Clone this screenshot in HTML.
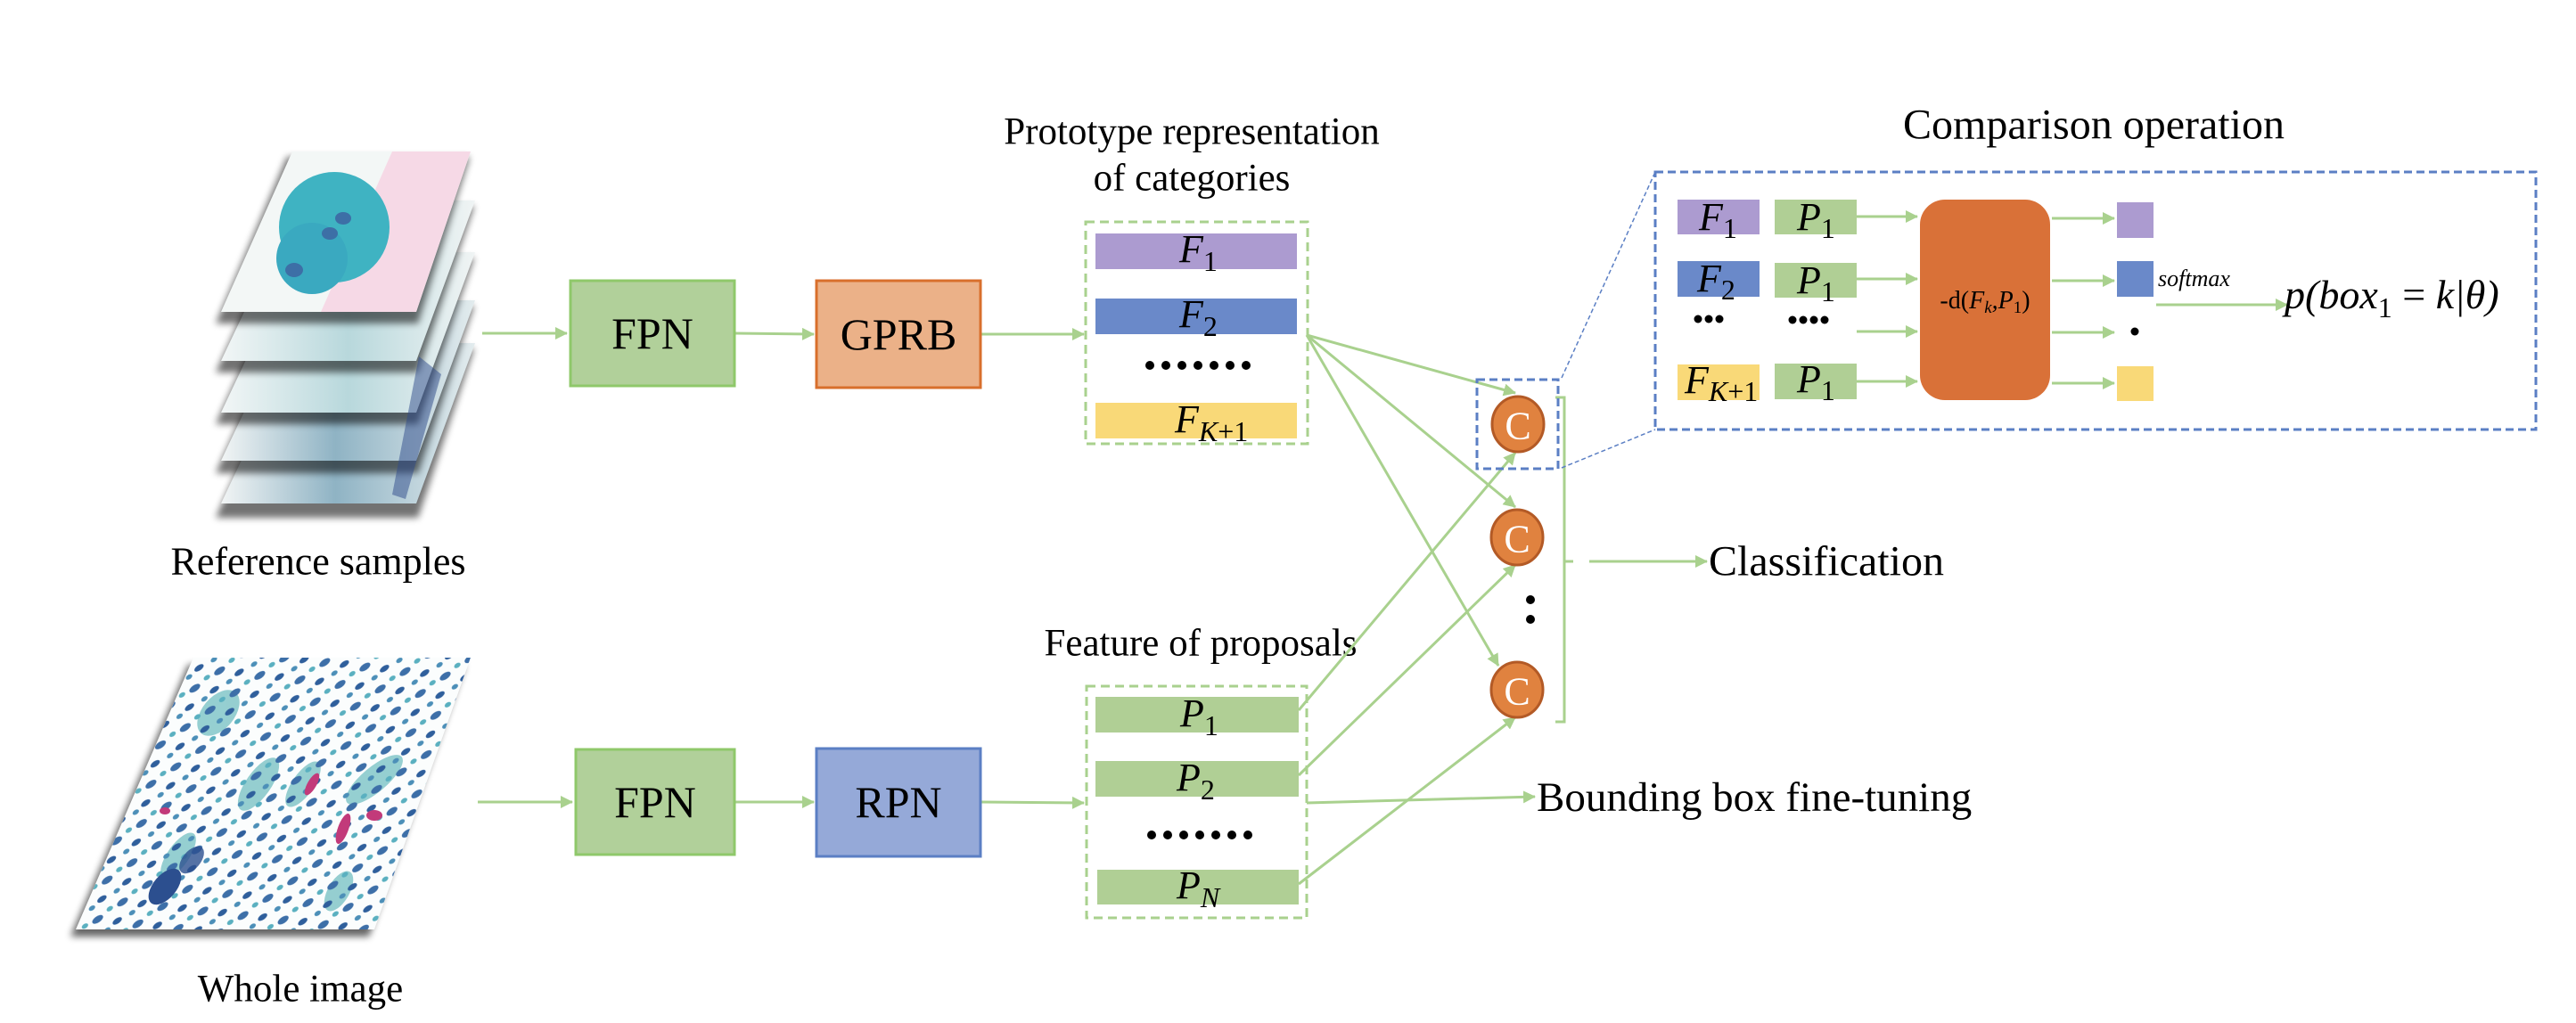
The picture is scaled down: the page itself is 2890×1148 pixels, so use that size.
<!DOCTYPE html>
<html><head><meta charset="utf-8"><style>
html,body{margin:0;padding:0;background:#fff;}
svg{display:block}
text{font-family:"Liberation Serif",serif;fill:#000}
.m{font-family:"Liberation Serif",serif;font-style:italic}
</style></head><body>
<svg width="2890" height="1148" viewBox="0 0 2890 1148" xmlns="http://www.w3.org/2000/svg">
<defs>
<marker id="ah2" markerWidth="14" markerHeight="14" refX="13" refY="7" orient="auto" markerUnits="userSpaceOnUse">
<path d="M0,0 L14,7 L0,14 Z" fill="#a9d18e"/>
</marker>
<filter id="sh" x="-20%" y="-20%" width="140%" height="150%"><feGaussianBlur stdDeviation="4"/></filter>
<clipPath id="wclip"><polygon points="217,738 528,738 420,1043 85,1043"/></clipPath>
<pattern id="cells" width="34" height="30" patternUnits="userSpaceOnUse" patternTransform="rotate(-35)">
<ellipse cx="8" cy="8" rx="7" ry="3.5" fill="#3d6fa8"/>
<ellipse cx="25" cy="22" rx="6" ry="3" fill="#2f5f9c"/>
<ellipse cx="26" cy="6" rx="4" ry="2.5" fill="#5ab0c0"/>
<ellipse cx="10" cy="24" rx="4" ry="2.5" fill="#4c8fb8"/>
</pattern>
<linearGradient id="lg1" x1="0" y1="0" x2="1" y2="0"><stop offset="0" stop-color="#f2f6f6"/><stop offset="0.5" stop-color="#b8d8dc"/><stop offset="1" stop-color="#f0f4f4"/></linearGradient>
<linearGradient id="lg2" x1="0" y1="0" x2="1" y2="0"><stop offset="0" stop-color="#f2f5f5"/><stop offset="0.45" stop-color="#8fb3c4"/><stop offset="1" stop-color="#e3ecee"/></linearGradient>
</defs>

<!-- Reference samples stack -->
<g>
<polygon points="333,385 538,385 475,575 248,575" fill="#000" opacity="0.55" filter="url(#sh)" transform="translate(-6,6)"/>
<polygon points="333,385 533,385 467,565 248,565" fill="url(#lg2)"/>
<polygon points="333,337 538,337 475,525 248,525" fill="#000" opacity="0.55" filter="url(#sh)" transform="translate(-6,6)"/>
<polygon points="333,337 533,337 467,517 248,517" fill="url(#lg2)"/>
<polygon points="333,283 538,283 475,470 248,470" fill="#000" opacity="0.55" filter="url(#sh)" transform="translate(-6,6)"/>
<polygon points="333,283 533,283 467,463 248,463" fill="url(#lg1)"/>
<polygon points="333,225 538,225 475,412 248,412" fill="#000" opacity="0.55" filter="url(#sh)" transform="translate(-6,6)"/>
<polygon points="333,225 533,225 467,405 248,405" fill="url(#lg1)"/>
<polygon points="328,170 533,170 475,357 248,357" fill="#000" opacity="0.55" filter="url(#sh)" transform="translate(-6,6)"/>
<polygon points="328,170 528,170 467,350 248,350" fill="#f3f7f6"/>
<clipPath id="tc"><polygon points="328,170 528,170 467,350 248,350"/></clipPath>
<g clip-path="url(#tc)">
<polygon points="440,170 528,170 467,350 360,350" fill="#f6d9e6"/>
<ellipse cx="375" cy="255" rx="62" ry="62" fill="#3fb3c2"/>
<ellipse cx="350" cy="290" rx="40" ry="40" fill="#3aa9c0"/>
<ellipse cx="385" cy="245" rx="9" ry="7" fill="#3d6fa6"/><ellipse cx="370" cy="262" rx="9" ry="7" fill="#3d6fa6"/><ellipse cx="330" cy="303" rx="10" ry="8" fill="#3d6fa6"/>
</g>
<path d="M470,400 L495,420 L455,560 L440,555 Z" fill="#2d4a8a" opacity="0.5"/>
</g>
<text x="357" y="630" font-size="44" text-anchor="middle" dominant-baseline="central">Reference samples</text>

<!-- Whole image -->
<polygon points="217,738 528,738 420,1043 85,1043" fill="#000" opacity="0.6" filter="url(#sh)" transform="translate(-6,8)"/>
<polygon points="217,738 528,738 420,1043 85,1043" fill="#fbfdfd"/>
<g clip-path="url(#wclip)">
<g fill="#7cc3c6" opacity="0.8">
<ellipse cx="245" cy="800" rx="30" ry="18" transform="rotate(-50 245 800)"/>
<ellipse cx="290" cy="880" rx="35" ry="14" transform="rotate(-55 290 880)"/>
<ellipse cx="420" cy="875" rx="40" ry="14" transform="rotate(-40 420 875)"/>
<ellipse cx="200" cy="960" rx="30" ry="12" transform="rotate(-55 200 960)"/>
<ellipse cx="380" cy="1000" rx="25" ry="12" transform="rotate(-60 380 1000)"/>
<ellipse cx="340" cy="880" rx="30" ry="12" transform="rotate(-55 340 880)"/>
</g>
<polygon points="217,738 528,738 420,1043 85,1043" fill="url(#cells)"/>
<ellipse cx="185" cy="995" rx="24" ry="13" transform="rotate(-50 185 995)" fill="#2c4f8f"/>
<ellipse cx="215" cy="965" rx="18" ry="10" transform="rotate(-50 215 965)" fill="#2c4f8f" opacity="0.8"/>
<ellipse cx="385" cy="930" rx="18" ry="6" transform="rotate(-70 385 930)" fill="#c23a7a"/>
<ellipse cx="420" cy="915" rx="9" ry="6" fill="#c23a7a"/>
<ellipse cx="350" cy="880" rx="14" ry="5" transform="rotate(-60 350 880)" fill="#c23a7a"/>
<ellipse cx="185" cy="910" rx="6" ry="4" fill="#c23a7a"/>
</g>
<text x="337" y="1110" font-size="43" text-anchor="middle" dominant-baseline="central">Whole image</text>

<g stroke="#a9d18e" stroke-width="3" fill="none">
<line x1="541" y1="374" x2="636" y2="374" marker-end="url(#ah2)"/>
<line x1="824" y1="374" x2="913" y2="375" marker-end="url(#ah2)"/>
<line x1="1100" y1="375" x2="1216" y2="375" marker-end="url(#ah2)"/>
<line x1="536" y1="900" x2="642" y2="900" marker-end="url(#ah2)"/>
<line x1="825" y1="900" x2="913" y2="900" marker-end="url(#ah2)"/>
<line x1="1100" y1="900" x2="1216" y2="901" marker-end="url(#ah2)"/>
</g>
<rect x="640" y="315" width="184" height="118" fill="#b1d09a" stroke="#8fc86a" stroke-width="3"/>
<text x="732" y="374" font-size="50" text-anchor="middle" dominant-baseline="central">FPN</text>
<rect x="916" y="315" width="184" height="120" fill="#ebb188" stroke="#d86f2c" stroke-width="3"/>
<text x="1008" y="375" font-size="50" text-anchor="middle" dominant-baseline="central">GPRB</text>
<rect x="646" y="841" width="178" height="118" fill="#b1d09a" stroke="#8fc86a" stroke-width="3"/>
<text x="735" y="900" font-size="50" text-anchor="middle" dominant-baseline="central">FPN</text>
<rect x="916" y="840" width="184" height="121" fill="#95a9d8" stroke="#5b7fc4" stroke-width="3"/>
<text x="1008" y="900" font-size="50" text-anchor="middle" dominant-baseline="central">RPN</text>

<text x="1337" y="148" font-size="43" text-anchor="middle" dominant-baseline="central">Prototype representation</text>
<text x="1337" y="200" font-size="43" text-anchor="middle" dominant-baseline="central">of categories</text>
<rect x="1218" y="249" width="249" height="249" fill="none" stroke="#a9d18e" stroke-width="3" stroke-dasharray="10,6"/>
<rect x="1229" y="262" width="226" height="40" fill="#ac9bd0"/>
<rect x="1229" y="335" width="226" height="40" fill="#6a89c9"/>
<rect x="1229" y="452" width="226" height="40" fill="#f9d978"/>
<text x="1323" y="294" font-size="44" class="m">F<tspan font-size="32" dy="10" font-style="normal">1</tspan></text>
<text x="1323" y="367" font-size="44" class="m">F<tspan font-size="32" dy="10" font-style="normal">2</tspan></text>
<text x="1318" y="485" font-size="44" class="m">F<tspan font-size="32" dy="10">K</tspan><tspan font-size="32" font-style="normal">+1</tspan></text>
<g fill="#000"><circle cx="1290" cy="410" r="5"/><circle cx="1308" cy="410" r="5"/><circle cx="1326" cy="410" r="5"/><circle cx="1344" cy="410" r="5"/><circle cx="1362" cy="410" r="5"/><circle cx="1380" cy="410" r="5"/><circle cx="1398" cy="410" r="5"/></g>

<text x="1347" y="722" font-size="43" text-anchor="middle" dominant-baseline="central">Feature of proposals</text>
<rect x="1219" y="770" width="247" height="260" fill="none" stroke="#a9d18e" stroke-width="3" stroke-dasharray="10,6"/>
<rect x="1229" y="782" width="228" height="40" fill="#b0cf95"/>
<rect x="1229" y="854" width="228" height="40" fill="#b0cf95"/>
<rect x="1231" y="976" width="226" height="39" fill="#b0cf95"/>
<text x="1324" y="815" font-size="44" class="m">P<tspan font-size="32" dy="10" font-style="normal">1</tspan></text>
<text x="1320" y="887" font-size="44" class="m">P<tspan font-size="32" dy="10" font-style="normal">2</tspan></text>
<text x="1320" y="1008" font-size="44" class="m">P<tspan font-size="32" dy="10">N</tspan></text>
<g fill="#000"><circle cx="1292" cy="937" r="5"/><circle cx="1310" cy="937" r="5"/><circle cx="1328" cy="937" r="5"/><circle cx="1346" cy="937" r="5"/><circle cx="1364" cy="937" r="5"/><circle cx="1382" cy="937" r="5"/><circle cx="1400" cy="937" r="5"/></g>

<g stroke="#a9d18e" stroke-width="3" fill="none">
<line x1="1466" y1="376" x2="1700" y2="441" marker-end="url(#ah2)"/>
<line x1="1466" y1="376" x2="1700" y2="569" marker-end="url(#ah2)"/>
<line x1="1466" y1="376" x2="1681" y2="747" marker-end="url(#ah2)"/>
<line x1="1457" y1="797" x2="1700" y2="508" marker-end="url(#ah2)"/>
<line x1="1457" y1="870" x2="1700" y2="634" marker-end="url(#ah2)"/>
<line x1="1457" y1="992" x2="1700" y2="805" marker-end="url(#ah2)"/>
<line x1="1466" y1="901" x2="1722" y2="894" marker-end="url(#ah2)"/>
<polyline points="1745,446 1755,446 1755,810 1745,810"/>
<line x1="1755" y1="630" x2="1765" y2="630"/>
<line x1="1783" y1="630" x2="1915" y2="630" marker-end="url(#ah2)"/>
</g>
<g fill="#e0823f" stroke="#b35a26" stroke-width="3">
<ellipse cx="1703" cy="476" rx="29" ry="31"/>
<ellipse cx="1702" cy="603" rx="29" ry="31"/>
<ellipse cx="1702" cy="774" rx="29" ry="31"/>
</g>
<g font-size="44" text-anchor="middle" dominant-baseline="central">
<text x="1703" y="478" style="fill:#fff">C</text>
<text x="1702" y="605" style="fill:#fff">C</text>
<text x="1702" y="776" style="fill:#fff">C</text>
</g>
<circle cx="1717" cy="673" r="5" fill="#000"/><circle cx="1717" cy="695" r="5" fill="#000"/>
<rect x="1657" y="426" width="91" height="100" fill="none" stroke="#5b7fc4" stroke-width="3" stroke-dasharray="9,5"/>
<g stroke="#5b7fc4" stroke-width="1.5" stroke-dasharray="5,3"><line x1="1752" y1="424" x2="1857" y2="193"/><line x1="1752" y1="525" x2="1857" y2="482"/></g>
<text x="1917" y="630" font-size="48" dominant-baseline="central">Classification</text>
<text x="1724" y="895" font-size="47" dominant-baseline="central">Bounding box fine-tuning</text>

<text x="2349" y="140" font-size="48" text-anchor="middle" dominant-baseline="central">Comparison operation</text>
<rect x="1857" y="193" width="988" height="289" fill="none" stroke="#5b7fc4" stroke-width="3" stroke-dasharray="9,5"/>
<rect x="1882" y="224" width="92" height="39" fill="#ac9bd0"/>
<rect x="1882" y="293" width="92" height="40" fill="#6a89c9"/>
<rect x="1882" y="409" width="92" height="40" fill="#f9d978"/>
<rect x="1991" y="224" width="92" height="39" fill="#b0cf95"/>
<rect x="1991" y="295" width="92" height="39" fill="#b0cf95"/>
<rect x="1991" y="408" width="92" height="40" fill="#b0cf95"/>
<g font-size="44" class="m">
<text x="1906" y="258">F<tspan font-size="32" dy="9" font-style="normal">1</tspan></text>
<text x="1904" y="327">F<tspan font-size="32" dy="9" font-style="normal">2</tspan></text>
<text x="1890" y="441">F<tspan font-size="32" dy="9">K</tspan><tspan font-size="32" font-style="normal">+1</tspan></text>
<text x="2016" y="258">P<tspan font-size="32" dy="9" font-style="normal">1</tspan></text>
<text x="2016" y="329">P<tspan font-size="32" dy="9" font-style="normal">1</tspan></text>
<text x="2016" y="440">P<tspan font-size="32" dy="9" font-style="normal">1</tspan></text>
</g>
<g fill="#000"><circle cx="1905" cy="358" r="4.5"/><circle cx="1917" cy="358" r="4.5"/><circle cx="1929" cy="358" r="4.5"/>
<circle cx="2011" cy="359" r="4.5"/><circle cx="2023" cy="359" r="4.5"/><circle cx="2035" cy="359" r="4.5"/><circle cx="2047" cy="359" r="4.5"/>
<circle cx="2395" cy="372" r="4.5"/></g>
<rect x="2154" y="224" width="146" height="225" rx="28" ry="28" fill="#d97138"/>
<text x="2227" y="346" font-size="28" text-anchor="middle">-d(<tspan class="m">F<tspan font-size="19" dy="5">k</tspan><tspan dy="-5">,P</tspan><tspan font-size="19" dy="5" font-style="normal">1</tspan></tspan><tspan dy="-5">)</tspan></text>
<g stroke="#a9d18e" stroke-width="3" fill="none">
<line x1="2083" y1="243" x2="2151" y2="243" marker-end="url(#ah2)"/>
<line x1="2083" y1="313" x2="2151" y2="313" marker-end="url(#ah2)"/>
<line x1="2083" y1="372" x2="2151" y2="372" marker-end="url(#ah2)"/>
<line x1="2083" y1="428" x2="2151" y2="428" marker-end="url(#ah2)"/>
<line x1="2302" y1="245" x2="2372" y2="245" marker-end="url(#ah2)"/>
<line x1="2302" y1="315" x2="2372" y2="315" marker-end="url(#ah2)"/>
<line x1="2302" y1="373" x2="2372" y2="373" marker-end="url(#ah2)"/>
<line x1="2302" y1="430" x2="2372" y2="430" marker-end="url(#ah2)"/>
<line x1="2419" y1="342" x2="2566" y2="342" marker-end="url(#ah2)"/>
</g>
<rect x="2375" y="227" width="41" height="40" fill="#ac9bd0"/>
<rect x="2375" y="293" width="41" height="40" fill="#6a89c9"/>
<rect x="2375" y="411" width="41" height="39" fill="#f9d978"/>
<text x="2421" y="321" font-size="26" class="m">softmax</text>
<text x="2563" y="346" font-size="46" class="m">p(box<tspan font-size="32" dy="10" font-style="normal">1</tspan><tspan dy="-10" font-style="normal"> = </tspan>k|θ)</text>
</svg>
</body></html>
